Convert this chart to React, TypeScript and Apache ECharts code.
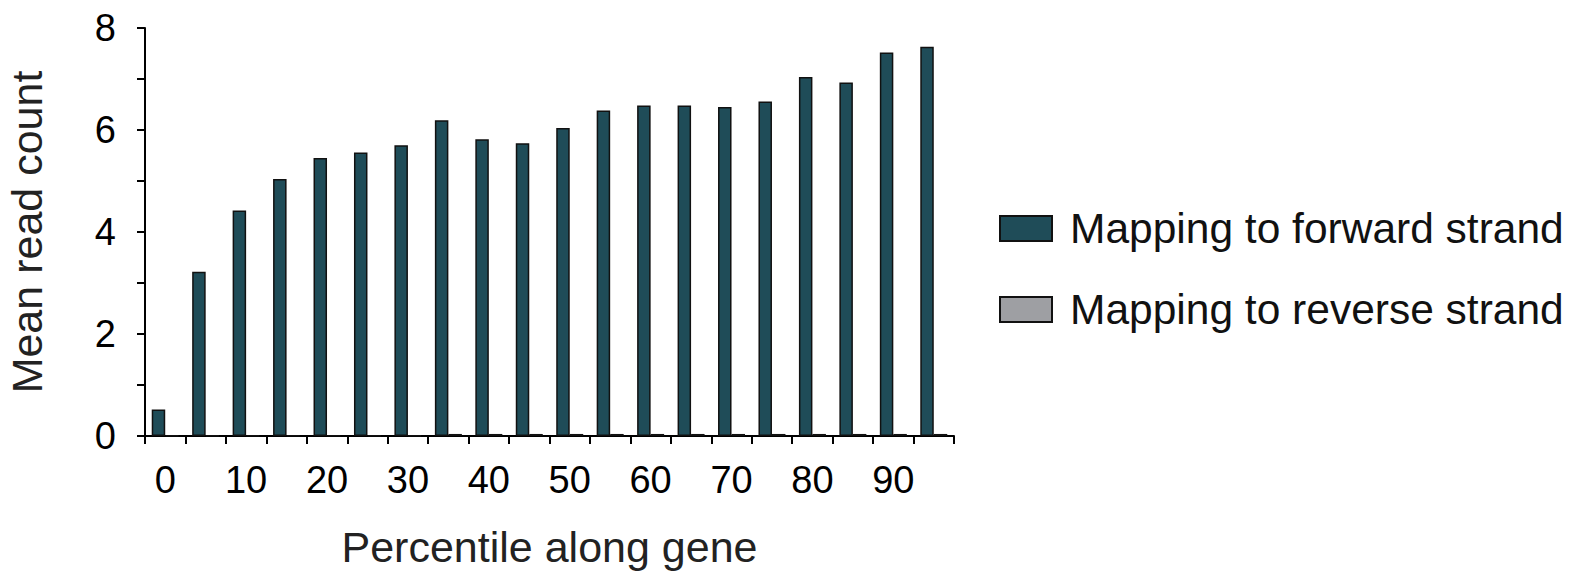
import React, { useEffect, useRef } from "react";
import * as echarts from "echarts";

const categories = ["0", "5", "10", "15", "20", "25", "30", "35", "40", "45", "50", "55", "60", "65", "70", "75", "80", "85", "90", "95"];
const forwardValues = [0.52, 3.22, 4.42, 5.04, 5.45, 5.56, 5.7, 6.19, 5.82, 5.74, 6.04, 6.38, 6.48, 6.48, 6.45, 6.56, 7.04, 6.93, 7.52, 7.63];
const reverseValues = [0.01, 0.01, 0.01, 0.01, 0.01, 0.01, 0.01, 0.04, 0.04, 0.04, 0.04, 0.04, 0.04, 0.04, 0.04, 0.04, 0.04, 0.04, 0.04, 0.04];
const seriesNames = ["Mapping to forward strand", "Mapping to reverse strand"];
const yTicks = [0, 1, 2, 3, 4, 5, 6, 7, 8];

const FONT = "'Liberation Sans', Arial, Helvetica, sans-serif";

export default function App() {
  const ref = useRef<HTMLDivElement>(null);
  useEffect(() => {
    if (!ref.current) return;
    const chart = echarts.init(ref.current, null, { renderer: "svg" });
    chart.setOption({
      animation: false,
      textStyle: { fontFamily: FONT },
      grid: {
        left: 145,
        right: 624,
        top: 28,
        bottom: 135,
        containLabel: false,
        outerBoundsMode: "none",
      },
      legend: {
        orient: "vertical",
        left: 999,
        top: 207,
        padding: 0,
        itemWidth: 52,
        itemHeight: 25,
        itemGap: 38,
        icon: "rect",
        data: seriesNames,
        textStyle: { fontSize: 42.5, color: "#111", fontFamily: FONT, padding: [0, 0, 0, 13] },
      },
      xAxis: {
        type: "category",
        data: categories,
        boundaryGap: true,
        name: "Percentile along gene",
        nameLocation: "middle",
        nameGap: 89,
        nameMoveOverlap: false,
        nameTextStyle: { fontSize: 43, color: "#222", fontFamily: FONT },
        axisLine: { lineStyle: { color: "#000", width: 2 } },
        axisTick: { show: true, interval: 0, length: 8, lineStyle: { color: "#000", width: 2 } },
        axisLabel: { interval: 1, fontSize: 38, color: "#000", margin: 25, fontFamily: FONT },
        splitLine: { show: false },
      },
      yAxis: {
        type: "value",
        min: 0,
        max: 8,
        interval: 1,
        name: "Mean read count",
        nameLocation: "middle",
        nameGap: 97,
        nameRotate: 90,
        nameMoveOverlap: false,
        nameTextStyle: { fontSize: 43, color: "#222", fontFamily: FONT },
        axisLine: { show: true, lineStyle: { color: "#000", width: 2 } },
        axisTick: { show: true, length: 8, lineStyle: { color: "#000", width: 2 } },
        axisLabel: {
          fontSize: 38,
          color: "#000",
          margin: 29,
          fontFamily: FONT,
          formatter: (v: number) => (yTicks.includes(v) && v % 2 === 0 ? String(v) : ""),
        },
        splitLine: { show: false },
      },
      series: [
        {
          name: seriesNames[0],
          type: "bar",
          data: forwardValues,
          barWidth: 13.5,
          barGap: "0%",
          itemStyle: { color: "#1f4c58", borderColor: "#111", borderWidth: 1.5 },
        },
        {
          name: seriesNames[1],
          type: "bar",
          data: reverseValues,
          barWidth: 13.5,
          barGap: "0%",
          itemStyle: { color: "#9e9fa3", borderColor: "#111", borderWidth: 1.5 },
        },
      ],
    });
    return () => chart.dispose();
  }, []);
  return (
    <div
      ref={ref}
      style={{ position: "fixed", left: 0, top: 0, width: 1578, height: 571, background: "#fff" }}
    />
  );
}
